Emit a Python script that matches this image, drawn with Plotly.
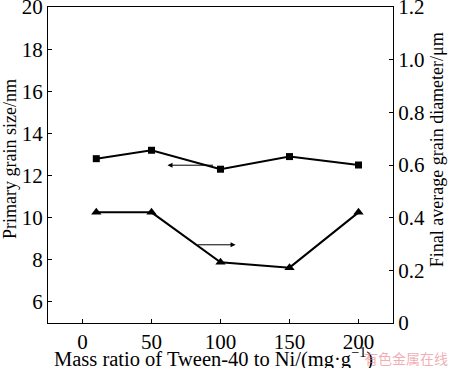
import plotly.graph_objects as go

mass_ratio = [10, 50, 100, 150, 200]
primary_grain_nm = [12.8, 13.2, 12.3, 12.9, 12.5]
final_grain_um = [0.42, 0.42, 0.23, 0.21, 0.42]

x_ticks = [0, 50, 100, 150, 200]
left_ticks = [6, 8, 10, 12, 14, 16, 18, 20]
right_ticks = [0, 0.2, 0.4, 0.6, 0.8, 1.0, 1.2]
right_tick_labels = ["0", "0.2", "0.4", "0.6", "0.8", "1.0", "1.2"]

FONT = "Liberation Serif, Times New Roman, serif"

fig = go.Figure()
fig.add_trace(go.Scatter(
    x=mass_ratio, y=primary_grain_nm, mode="lines+markers",
    line=dict(color="black", width=2),
    marker=dict(symbol="square", size=7, color="black"),
    showlegend=False, yaxis="y"))
fig.add_trace(go.Scatter(
    x=mass_ratio, y=final_grain_um, mode="lines+markers",
    line=dict(color="black", width=2),
    marker=dict(symbol="triangle-up", size=9, color="black"),
    showlegend=False, yaxis="y2"))

axis_common = dict(showline=True, linecolor="black", linewidth=1.2,
                   ticks="inside", ticklen=4, tickcolor="black", tickwidth=1,
                   showgrid=False, zeroline=False, automargin=False,
                   ticklabeloverflow="allow",
                   tickfont=dict(family=FONT, size=21, color="black"))

fig.update_layout(
    width=450, height=368,
    margin=dict(l=48, r=57, t=7, b=45),
    paper_bgcolor="white", plot_bgcolor="white",
    font=dict(family=FONT, color="black"),
    xaxis=dict(range=[-25, 225], tickvals=x_ticks, mirror=True, **axis_common),
    yaxis=dict(range=[4.995, 20.005], tickvals=left_ticks, **axis_common),
    yaxis2=dict(range=[-0.0004, 1.2004], tickvals=right_ticks, ticktext=right_tick_labels,
                overlaying="y", side="right", **axis_common),
)

# Axis titles
fig.add_annotation(x=0.481, y=-0.108, xref="paper", yref="paper", showarrow=False,
                   xanchor="center", yanchor="middle",
                   text="Mass ratio of Tween-40 to Ni/(mg\u00b7g<sup>\u22121</sup>)",
                   font=dict(family=FONT, size=20.5, color="black"))
fig.add_annotation(x=-0.110, y=0.519, xref="paper", yref="paper", showarrow=False,
                   xanchor="center", yanchor="middle", textangle=-90,
                   text="Primary grain size/nm",
                   font=dict(family=FONT, size=18, color="black"))
fig.add_annotation(x=1.128, y=0.547, xref="paper", yref="paper", showarrow=False,
                   xanchor="center", yanchor="middle", textangle=-90,
                   text="Final average grain diameter/\u03bcm",
                   font=dict(family=FONT, size=18, color="black"))

# Arrows indicating which axis each curve belongs to
fig.add_annotation(x=61.6, y=12.49, ax=95.7, ay=12.49, xref="x", yref="y", axref="x", ayref="y",
                   showarrow=True, arrowhead=2, arrowsize=1, arrowwidth=1, arrowcolor="black", text="")
fig.add_annotation(x=110.9, y=8.71, ax=82.4, ay=8.71, xref="x", yref="y", axref="x", ayref="y",
                   showarrow=True, arrowhead=2, arrowsize=1, arrowwidth=1, arrowcolor="black", text="")

# Watermark
fig.add_annotation(x=1.165, y=-0.111, xref="paper", yref="paper", text="有色金属在线",
                   showarrow=False, xanchor="right", yanchor="middle",
                   font=dict(family="Noto Sans CJK SC", size=14, color="rgba(230,120,130,0.6)"))

fig.write_html("out.html", config={"displayModeBar": False},
               post_script="document.body.style.margin='0';document.body.style.overflow='hidden';")
